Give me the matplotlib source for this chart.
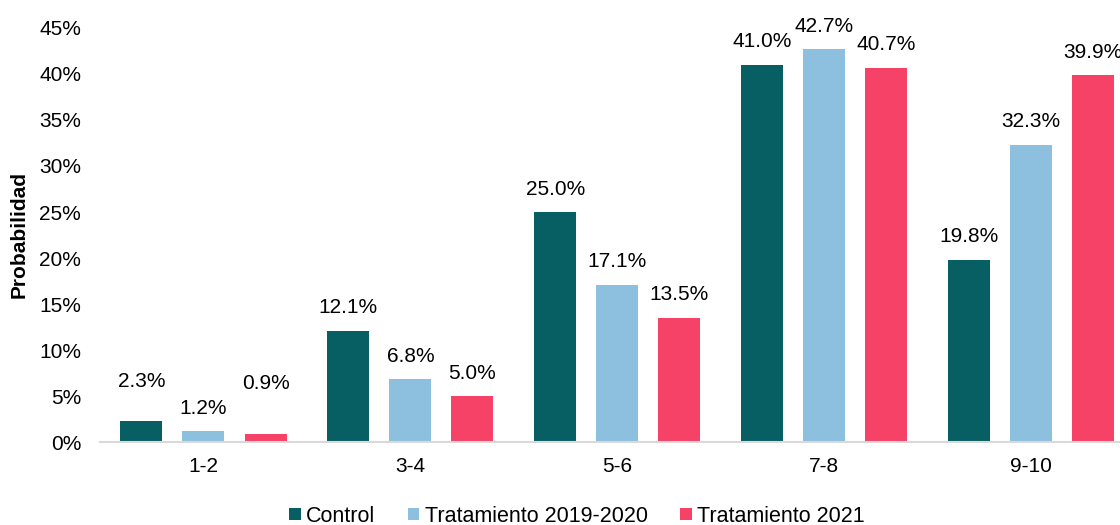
import matplotlib
matplotlib.use("Agg")
import matplotlib.pyplot as plt
import numpy as np

categories = ["1-2", "3-4", "5-6", "7-8", "9-10"]
series_names = ["Control", "Tratamiento 2019-2020", "Tratamiento 2021"]
control = [2.3, 12.1, 25.0, 41.0, 19.8]
trat_2019_2020 = [1.2, 6.8, 17.1, 42.7, 32.3]
trat_2021 = [0.9, 5.0, 13.5, 40.7, 39.9]
yticks = [0, 5, 10, 15, 20, 25, 30, 35, 40, 45]

colors = ["#075F63", "#8DBFDE", "#F64267"]
plt.rcParams['font.family'] = ['Liberation Sans', 'DejaVu Sans']
FS = 15

fig = plt.figure(figsize=(11.2, 5.25), dpi=100)
ax = fig.add_axes([100/1120, 83/525, 1020/1120, 414/525])

x = np.arange(len(categories))
width = 0.203
offs = [-0.30, 0.0, 0.30]
data = [control, trat_2019_2020, trat_2021]
# label offsets (points) of label centre above bar tops
label_off = [[28, 16.5, 16.5, 16.5, 16.5], [16.5, 16.5, 16.5, 16.5, 16.5], [36, 16.5, 16.5, 16.5, 16.5]]
for i, (vals, c, name) in enumerate(zip(data, colors, series_names)):
    bars = ax.bar(x + offs[i], vals, width, color=c, label=name, zorder=2)
    for j, (b, v) in enumerate(zip(bars, vals)):
        ax.annotate(f"{v:.1f}%", (b.get_x() + b.get_width()/2, v),
                    xytext=(0, label_off[i][j]), textcoords="offset points",
                    ha="center", va="center", fontsize=FS, color="#000000")

ax.set_xlim(-0.50, 4.43)
ax.set_ylim(0, 45)
ax.set_yticks(yticks)
ax.set_yticklabels([f"{t}%" for t in yticks], fontsize=FS)
ax.set_xticks(x)
ax.set_xticklabels(categories, fontsize=FS)
ax.tick_params(axis='both', length=0)
ax.tick_params(axis='x', pad=11)
ax.tick_params(axis='y', pad=13.5)
for s in ["top", "right", "left"]:
    ax.spines[s].set_visible(False)
ax.spines["bottom"].set_color("#D9D9D9")
ax.spines["bottom"].set_linewidth(1.5)
ax.set_ylabel("Probabilidad", fontsize=FS, fontweight="bold", labelpad=8)

leg = fig.legend(loc="lower center", bbox_to_anchor=(0.515, -0.04), ncol=3, frameon=False,
                 fontsize=15.5, handlelength=0.55, handleheight=0.55, handletextpad=0.25,
                 columnspacing=1.5)

fig.savefig("out.png", dpi=100)
